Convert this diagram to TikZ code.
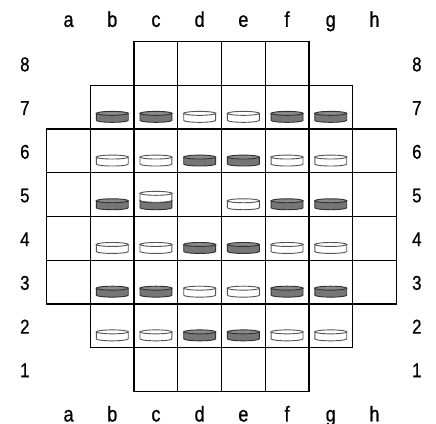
\documentclass[tikz,border=0pt]{standalone}
\usepackage{fontspec}
\setmainfont[FakeStretch=0.84, FakeBold=0.8]{Liberation Sans}
\usepackage{tikz}
\usetikzlibrary{calc}
\definecolor{diskdark}{RGB}{118,118,118}
\definecolor{disktop}{RGB}{138,138,138}
\definecolor{diskline}{RGB}{50,50,50}
\definecolor{diskpale}{RGB}{85,85,85}
\tikzset{
  cell/.style={draw=black, line width=0.85pt},
  coord/.style={font=\fontsize{13}{15}\selectfont, inner sep=0pt},
  file/.style={coord, font=\fontsize{14}{16}\selectfont},
  darkdisk/.style={fill=diskdark, draw=diskline, line width=0.6pt},
  darktop/.style={fill=disktop, draw=diskline, line width=0.6pt},
  lightdisk/.style={fill=white, draw=diskpale, line width=0.6pt},
  lighttop/.style={fill=white, draw=diskpale, line width=0.6pt},
  disk/.pic={
    \path[#1disk] (-0.365,0.16) -- (-0.365,0) arc (180:360:0.365 and 0.045)
      -- (0.365,0.16) -- cycle;
    \path[#1top] (0,0.16) ellipse (0.365 and 0.045);
  },
}

\begin{document}
\begin{tikzpicture}
  \useasboundingbox (-1.069,-0.748) rectangle (8.908,8.954);
  % board
  \foreach \y in {2,...,5} {
    \foreach \x in {0,...,7} \draw[cell] (\x,\y) rectangle ++(1,1);
  }
  \foreach \y in {1,6} {
    \foreach \x in {1,...,6} \draw[cell] (\x,\y) rectangle ++(1,1);
  }
  \foreach \y in {0,7} {
    \foreach \x in {2,...,5} \draw[cell] (\x,\y) rectangle ++(1,1);
  }
  % file and rank labels
  \foreach \f [count=\i from 0] in {a,b,c,d,e,f,g,h} {
    \node[file, anchor=base] (top\f) at (\i+0.5,8.34) {\f};
    \node[file, anchor=base] (bot\f) at (\i+0.5,-0.69) {\f};
  }
  \foreach \r in {1,...,8} {
    \node[coord] (left\r) at (-0.5,\r-0.52) {\r};
    \node[coord] (right\r) at (8.47,\r-0.52) {\r};
  }
  % disks
  \foreach \y/\kinds in {6/{dark,dark,light,light,dark,dark},
                         5/{light,light,dark,dark,light,light},
                         4/{dark,dark,,light,dark,dark},
                         3/{light,light,dark,dark,light,light},
                         2/{dark,dark,light,light,dark,dark},
                         1/{light,light,dark,dark,light,light}} {
    \foreach \k [count=\i from 1] in \kinds {
      \ifx\k\empty\else
        \pic at (\i+0.5,\y+0.2) {disk=\k};
      \fi
    }
  }
  \pic at (2.5,4.37) {disk=light};
\end{tikzpicture}
\end{document}
